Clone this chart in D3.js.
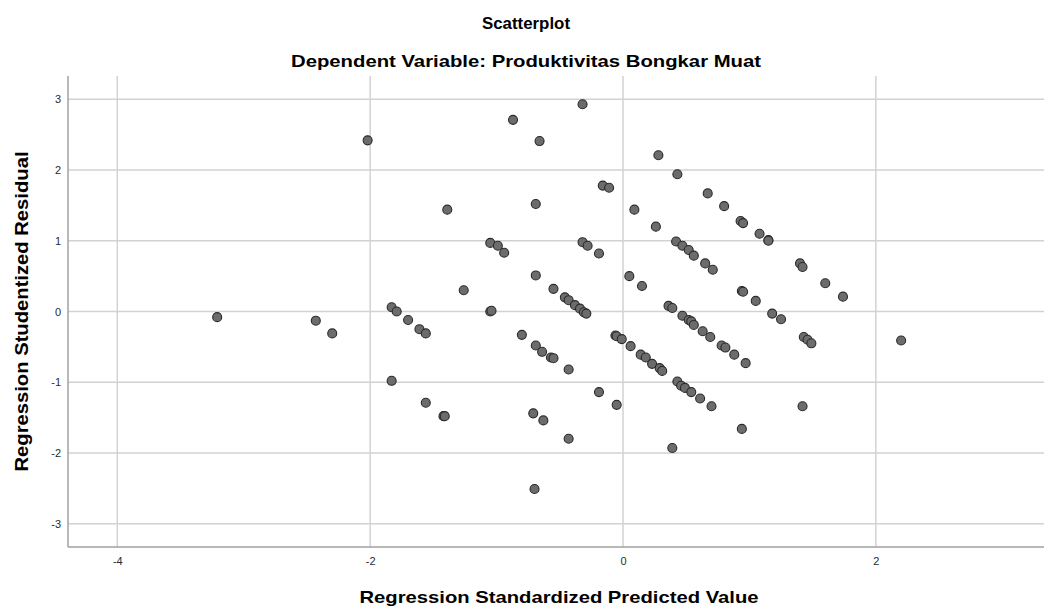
<!DOCTYPE html>
<head>
    <meta charset="utf-8">
    <script src="https://d3js.org/d3.v7.min.js"></script>
    <style>
        body { margin: 0; background: #fff; }
        text { font-family: "Liberation Sans", Arial, sans-serif; }
    </style>
</head>
<body>
    <svg></svg>
</body>

<script>
    var predicted = [
        -3.21, -2.43, -2.30, -2.02, -1.83, -1.79, -1.70, -1.61, -1.56, -1.83,
        -1.56, -1.42, -1.41, -1.39, -1.26, -1.05, -1.04, -1.05, -0.99, -0.94,
        -0.87, -0.80, -0.71, -0.70, -0.69, -0.69, -0.69, -0.66, -0.64, -0.63,
        -0.57, -0.55, -0.55, -0.46, -0.43, -0.43, -0.43, -0.38, -0.34, -0.31,
        -0.29, -0.32, -0.32, -0.28, -0.19, -0.19, -0.16, -0.11, -0.06, -0.05,
        -0.05, -0.01, 0.05, 0.06, 0.09, 0.14, 0.15, 0.18, 0.23, 0.26,
        0.28, 0.29, 0.31, 0.36, 0.39, 0.39, 0.42, 0.43, 0.43, 0.47,
        0.46, 0.47, 0.49, 0.52, 0.52, 0.54, 0.54, 0.56, 0.56, 0.61,
        0.63, 0.65, 0.67, 0.69, 0.70, 0.71, 0.78, 0.81, 0.80, 0.88,
        0.93, 0.95, 0.94, 0.95, 0.94, 0.97, 1.05, 1.08, 1.15, 1.15,
        1.18, 1.25, 1.40, 1.42, 1.42, 1.43, 1.46, 1.49, 1.60, 1.74,
        2.20
    ];
    var residual = [
        -0.08, -0.13, -0.31, 2.42, 0.06, 0.00, -0.12, -0.25, -0.31, -0.98,
        -1.29, -1.48, -1.48, 1.44, 0.30, 0.00, 0.01, 0.97, 0.93, 0.83,
        2.71, -0.33, -1.44, -2.51, 0.51, 1.52, -0.48, 2.41, -0.57, -1.54,
        -0.65, -0.66, 0.32, 0.20, 0.16, -0.82, -1.80, 0.09, 0.04, -0.01,
        -0.03, 2.93, 0.98, 0.93, 0.82, -1.14, 1.78, 1.75, -0.34, -0.35,
        -1.32, -0.39, 0.50, -0.49, 1.44, -0.61, 0.36, -0.65, -0.74, 1.20,
        2.21, -0.80, -0.84, 0.08, 0.05, -1.93, 0.99, 1.94, -0.99, -0.06,
        -1.05, 0.93, -1.08, 0.87, -0.12, -0.14, -1.14, 0.79, -0.19, -1.23,
        -0.28, 0.68, 1.67, -0.36, -1.34, 0.59, -0.48, -0.51, 1.49, -0.61,
        1.28, 1.25, 0.29, 0.28, -1.66, -0.73, 0.15, 1.10, 1.01, 1.00,
        -0.03, -0.11, 0.68, 0.63, -1.34, -0.36, -0.40, -0.45, 0.40, 0.21,
        -0.41
    ];
    var xTicks = [-4, -2, 0, 2];
    var yTicks = [-3, -2, -1, 0, 1, 2, 3];

    var title = "Scatterplot";
    var subtitle = "Dependent Variable: Produktivitas Bongkar Muat";
    var xLabel = "Regression Standardized Predicted Value";
    var yLabel = "Regression Studentized Residual";

    // Layout
    var width = 1044;
    var height = 609;
    var plotLeft = 68, plotRight = 1044, plotTop = 76, plotBottom = 547;

    var svg = d3.select('svg')
        .attr('width', width)
        .attr('height', height);

    var x = d3.scaleLinear().domain([-4.39, 3.33]).range([plotLeft, plotRight]);
    var y = d3.scaleLinear().domain([-3.33, 3.33]).range([plotBottom, plotTop]);

    // Grid lines
    svg.append('g').selectAll('line')
        .data(xTicks)
        .enter().append('line')
        .attr('x1', function (d) { return x(d); })
        .attr('x2', function (d) { return x(d); })
        .attr('y1', plotTop)
        .attr('y2', plotBottom)
        .style('stroke', '#d2d2d2')
        .style('stroke-width', 1.5);

    svg.append('g').selectAll('line')
        .data(yTicks)
        .enter().append('line')
        .attr('x1', plotLeft)
        .attr('x2', plotRight)
        .attr('y1', function (d) { return y(d); })
        .attr('y2', function (d) { return y(d); })
        .style('stroke', '#d2d2d2')
        .style('stroke-width', 1.5);

    // Axes (no tick marks, just labels)
    var fmt = function (d) { return String(d); };
    var xAxis = svg.append('g')
        .attr('transform', 'translate(0,' + plotBottom + ')')
        .call(d3.axisBottom(x).tickValues(xTicks).tickSize(0).tickPadding(10).tickFormat(fmt));
    var yAxis = svg.append('g')
        .attr('transform', 'translate(' + plotLeft + ',0)')
        .call(d3.axisLeft(y).tickValues(yTicks).tickSize(0).tickPadding(7).tickFormat(fmt));

    [xAxis, yAxis].forEach(function (a) {
        a.select('.domain').style('stroke', '#a0a0a0').style('stroke-width', 1.5);
        a.selectAll('text')
            .style('font-size', '11px')
            .style('fill', '#2a2a2a')
            .style('font-family', '"Liberation Sans", Arial, sans-serif');
    });
    xAxis.select('.domain').attr('d', 'M' + plotLeft + ',0H' + plotRight);
    yAxis.select('.domain').attr('d', 'M0,' + plotTop + 'V' + plotBottom);

    // Points
    var pts = predicted.map(function (d, i) { return [d, residual[i]]; });
    svg.append('g').selectAll('circle')
        .data(pts)
        .enter().append('circle')
        .attr('cx', function (d) { return x(d[0]); })
        .attr('cy', function (d) { return y(d[1]); })
        .attr('r', 4.5)
        .style('fill', '#6c6c6c')
        .style('stroke', '#2a2a2a')
        .style('stroke-width', 1.1);

    // Titles
    svg.append('text')
        .attr('x', 526).attr('y', 29)
        .attr('text-anchor', 'middle')
        .attr('textLength', 88)
        .attr('lengthAdjust', 'spacingAndGlyphs')
        .style('font-size', '16px').style('font-weight', 'bold')
        .text(title);

    svg.append('text')
        .attr('x', 526).attr('y', 67)
        .attr('text-anchor', 'middle')
        .attr('textLength', 470)
        .attr('lengthAdjust', 'spacingAndGlyphs')
        .style('font-size', '17px').style('font-weight', 'bold')
        .text(subtitle);

    svg.append('text')
        .attr('x', 559).attr('y', 603)
        .attr('text-anchor', 'middle')
        .attr('textLength', 399)
        .attr('lengthAdjust', 'spacingAndGlyphs')
        .style('font-size', '17px').style('font-weight', 'bold')
        .text(xLabel);

    svg.append('text')
        .attr('transform', 'translate(28,' + y(0) + ') rotate(-90)')
        .attr('text-anchor', 'middle')
        .attr('textLength', 320)
        .attr('lengthAdjust', 'spacingAndGlyphs')
        .style('font-size', '18px').style('font-weight', 'bold')
        .text(yLabel);
</script>
